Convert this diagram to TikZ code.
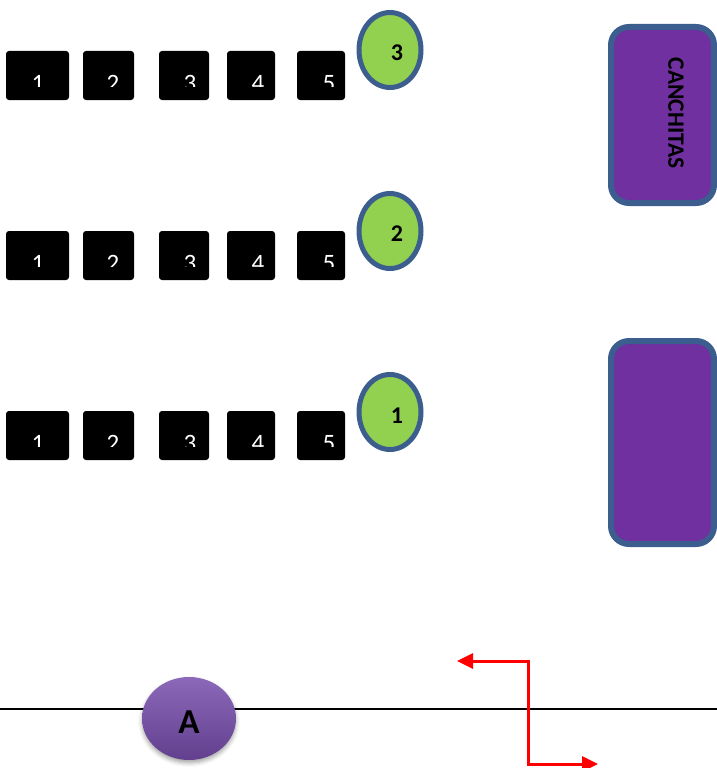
\documentclass[tikz,border=0pt]{standalone}
\usepackage{fontspec}
\setmainfont{Carlito}[BoldFont={Carlito Bold}]
\usetikzlibrary{arrows.meta,shapes.geometric,shadows.blur}

\definecolor{rimblue}{HTML}{3B5E8E}
\definecolor{tablegreen}{HTML}{92D050}
\definecolor{courtpurple}{HTML}{7030A0}
\definecolor{entrytop}{HTML}{8C68BA}
\definecolor{entrybottom}{HTML}{63408E}
\definecolor{exitred}{HTML}{FF0000}

\tikzset{
  seat/.style={fill=black, rounded corners=3pt, inner sep=0pt, minimum height=49},
  seatnum/.style={text=white, font=\fontsize{25}{25}\selectfont, inner sep=0pt, anchor=base},
  tablebox/.style={ellipse, draw=rimblue, line width=5pt, fill=tablegreen,
                   minimum width=62, minimum height=75, inner sep=0pt},
  tablenum/.style={font=\fontsize{24}{24}\selectfont\bfseries, inner sep=0pt},
  courtbox/.style={draw=rimblue, line width=6pt, fill=courtpurple,
                   rounded corners=18pt, minimum width=103, inner sep=0pt},
  courtlabel/.style={font=\fontsize{23.5}{23.5}\selectfont\bfseries, rotate=-90, inner sep=0pt},
  entrybubble/.style={ellipse, minimum width=94, minimum height=83, inner sep=0pt,
                      top color=entrytop, bottom color=entrybottom,
                      blur shadow={shadow xshift=0pt, shadow yshift=-3pt,
                                   shadow blur radius=4pt, shadow opacity=35}},
  entrylabel/.style={font=\fontsize{35}{35}\selectfont\bfseries, inner sep=0pt},
  wall/.style={line width=2pt, black},
  exitpath/.style={line width=3pt, exitred,
                   {Triangle[length=16pt,width=15pt]}-{Triangle[length=16pt,width=15pt]}},
}

\begin{document}
\begin{tikzpicture}[x=1pt, y=-1pt]
\useasboundingbox (0,0) rectangle (717,768);

% three rows of five numbered seats; the numbers are cut off at the bottom
\foreach \r/\dy in {3/0, 2/180, 1/360} {
  \foreach \c/\xa/\xb/\xt in {1/6/69/38, 2/83/134/113, 3/159/209/190, 4/227/275/258, 5/297/345/329} {
    \node[seat, minimum width={\xb-\xa}] (s\r\c) at ({(\xa+\xb)/2}, {75.5+\dy}) {};
    \begin{scope}
      \clip (s\r\c.north west) rectangle ([yshift=14pt]s\r\c.south east);
      \node[seatnum] (d\r\c) at (\xt, {91+\dy}) {\c};
    \end{scope}
  }
}

% round tables at the end of each row
\node[tablebox] (t3) at (390,50) {};
\node[tablenum] (n3) at ([xshift=7pt,yshift=-3pt]t3.center) {3};
\node[tablebox] (t2) at (390,231) {};
\node[tablenum] (n2) at ([xshift=7pt,yshift=-3pt]t2.center) {2};
\node[tablebox] (t1) at (390,412) {};
\node[tablenum] (n1) at ([xshift=7pt,yshift=-4pt]t1.center) {1};

% courts on the right
\node[courtbox, minimum height=176] (court1) at (662.5,115) {};
\node[courtlabel] (courtname) at (676,113) {CANCHITAS};
\node[courtbox, minimum height=203] (court2) at (662.5,442.5) {};

% wall line and entrance
\coordinate (wallL) at (0,709);
\coordinate (wallR) at (717,709);
\draw[wall] (wallL) -- (wallR);
\node[entrybubble] (A) at (189,718.5) {};
\node[entrylabel] (Alabel) at ([yshift=-4pt]A.center) {A};

% two-way exit route
\coordinate (exitL) at (457,661);
\coordinate (bendT) at (528,661);
\coordinate (bendB) at (528,764);
\coordinate (exitR) at (598,764);
\draw[exitpath] (exitL) -- (bendT) -- (bendB) -- (exitR);
\end{tikzpicture}
\end{document}
